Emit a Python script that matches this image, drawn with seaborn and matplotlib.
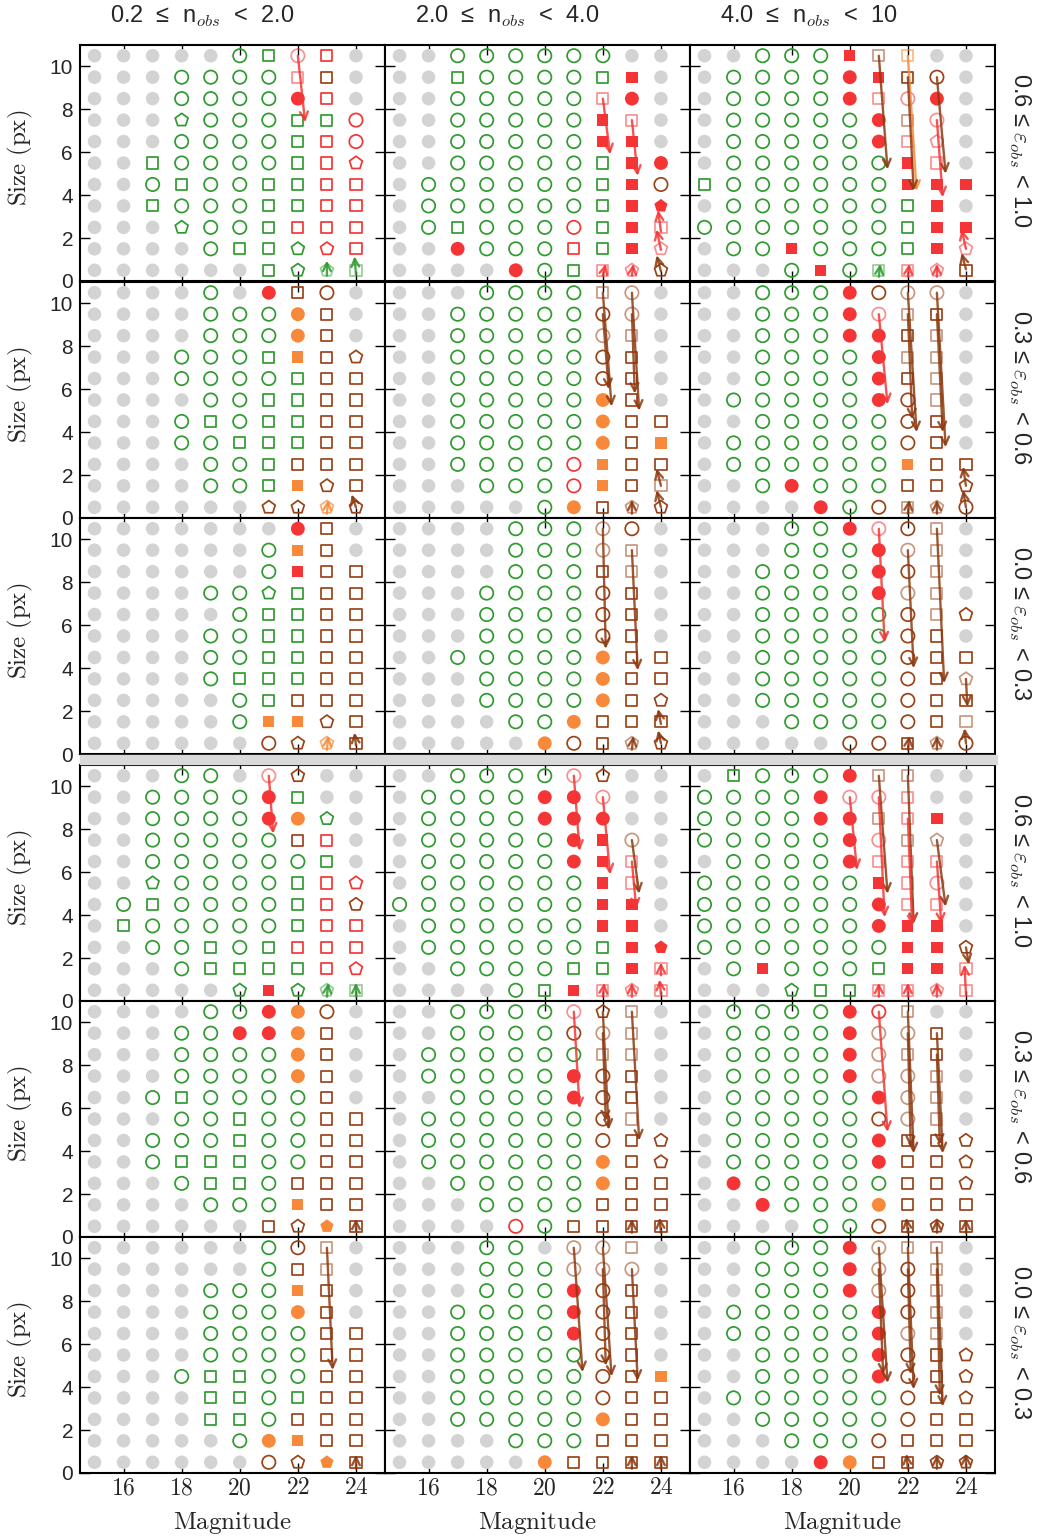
import numpy as np
import pandas as pd
import matplotlib
matplotlib.use('Agg')
import matplotlib.pyplot as plt
from matplotlib.patches import Rectangle
import seaborn as sns

sns.set_style('ticks')
plt.rcParams['font.family'] = ['Liberation Sans', 'DejaVu Sans']
plt.rcParams['mathtext.fontset'] = 'cm'

# grid of simulated sources: magnitude columns, size rows (bottom -> top)
magnitudes = [15, 16, 17, 18, 19, 20, 21, 22, 23, 24]
sizes = [0.5, 1.5, 2.5, 3.5, 4.5, 5.5, 6.5, 7.5, 8.5, 9.5, 10.5]
mag_ticks = [16, 18, 20, 22, 24]
size_ticks = [0, 2, 4, 6, 8, 10]

# bin edges shown as panel labels
n_bins = ['0.2', '2.0', '4.0', '10']
e_bins = [('0.6', '1.0'), ('0.3', '0.6'), ('0.0', '0.3')]

# one string per size row, top row (10.5) first, one char per magnitude
# . undetected | o s p green | O S P red open | u v w pale red | r q R red filled
# y Y z orange filled | k K pale orange | c b h brown open | e f g pale brown | x X pale green
a_e06_n02 = [".....osuS.", "...oooovb.", "...oooorS.", "...pooossO", "...oooosSO", "..soooosSP",
             "..osoossSS", "..sooossSS", "...poosSSS", "....osspPS", "......spxX"]
a_e06_n20 = ["..oooooo..", "..soooosq.", "..ooooovr.", "..oooooqv.", "..oooooqq.", "..ooooosqr",
             ".oooooosqc", ".oooooosqR", ".osoooOsqv", "..roooSsqw", "....rosvwh"]
a_e06_n40 = ["..oooqfk..", ".oooorqbc.", ".oooorvur.", ".ooooorfu.", ".ooooorvw.", ".ooooooqv.",
             "sooooooqqq", ".oooooosq.", "ooooooosqq", ".ooqooosqw", "...oqoXvwb"]
a_e03_n02 = ["....o.rbc.", "....oooyb.", "....oooyb.", "...ooosYbh", "...oooosbb", "....oossbb",
             "...osossbb", "...oosssbb", "....oosbbb", "....oosYhb", "......hhKh"]
a_e03_n20 = ["...oooofe.", "..oooooce.", "..oooooef.", "..ooooocb.", "..ooooocb.", "..oooooyb.",
             "..oooooybb", "..oooooybY", "..ooooOYbb", "...oooOYbf", ".....oybgh"]
a_e03_n40 = ["..ooorcee.", "..ooorufb.", "..ooorrbf.", "..oooorff.", "..oooorbf.", ".ooooorcf.",
             "..ooooocb.", ".oooooocb.", ".ooooooYbb", "..orooobbh", "....rocfgc"]
a_e00_n02 = [".......rb.", "......oYb.", "......oqbb", "....oopsbb", ".....ossbb", "....oossbb",
             "....oossbb", "....osssbb", ".....osbbb", ".....oYYhb", "......chKb"]
a_e00_n20 = ["....oooec.", "....oooef.", "....ooobf.", "...oooocb.", "...oooocb.", "...oooocb.",
             "..oooooybb", "...ooooybb", "...ooooybh", "....ooybbb", ".....ycbgh"]
a_e00_n40 = ["...oorucf.", "...oooref.", "..oooorcf.", "..ooooref.", "..ooooocfh", "..ooooocb.",
             "..ooooocbb", "..ooooocbg", "..ooooocbb", "...oooocbf", ".....ccbgc"]
b_e06_n02 = ["...oo.uh..", "..oooors..", "..ooooryp.", "..ooooobS.", "..oooooos.", "..poooosSP",
             ".osoooosSh", ".sooooosSS", "..oososSSS", "...ossssSP", ".....pqpxX"]
b_e06_n20 = ["..oooouh..", ".oooorru..", ".oooorrr..", ".ooooorqe.", ".ooooorqv.", ".ooooooqv.",
             "oooooooqq.", ".ooooooqq.", ".oooooosqR", "..oooossqv", "....osqvwv"]
b_e06_n40 = [".sooorff..", "ooooruuv..", "oooorrfvq.", "ooooorufg.", ".oooorvvv.", "ooooooqvu.",
             "oooooorvv.", "oooooorqq.", "oooooooqqh", ".oqooosqqv", "...pssvvwv"]
b_e03_n02 = ["....ooryc.", "...oorryb.", "...ooooyb.", "...ooooyb.", "..osoooob.", "...oosoobb",
             "..ooosoobb", "..osssoobb", "...ossobbb", "....oooYbb", "......bhzb"]
b_e03_n20 = ["..oooouhf.", "..oooocef.", ".ooooooff.", ".ooooorcb.", "..oooorcb.", ".oooooocf.",
             ".oooooocbh", ".ooooooybh", "..oooooybb", "...oooobbb", "....Oobbbb"]
b_e03_n40 = [".oooorOf..", ".ooooreeb.", ".oooorefb.", ".ooooreef.", ".oooooref.", ".ooooocef.",
             ".ooooorbbh", ".ooooorbbh", ".rooooobbh", "..roooybbb", "....oocbhb"]
b_e00_n02 = ["......ocf.", "......obf.", "....oooYb.", "....oooyb.", "....oooobb", "....oooobb",
             "...ossoobb", "....ssosbb", "....ssobbb", ".....oyYbb", "......chzb"]
b_e00_n20 = ["...oo.eef.", "...oooeee.", "...ooorcb.", "..oooorcb.", "..oooorcb.", "..ooooocb.",
             "..ooooocbY", "..ooooocbb", "..oooooybb", "....ooobbb", ".....ybbbb"]
b_e00_n40 = ["..oooreff.", "..ooorecf.", "..ooorecf.", ".ooooorcf.", ".oooooref.", "..oooorcbh",
             "..oooorcbh", ".oooooocbh", "..ooooocbb", "...ooocbbb", "....rybbhh"]

# arrows: (mag start, size start, mag end, size end, colour code)
arr_a_e06_n02 = [(22, 10.5, 22.25, 7.4, 'r'), (23, 0.25, 23.0, 0.95, 'g'), (24, 0.3, 23.95, 1.15, 'g')]
arr_a_e06_n20 = [(22, 8.5, 22.25, 5.9, 'r'), (23, 7.5, 23.2, 4.9, 'r'), (22, 0.25, 22.1, 0.8, 'r'),
                 (23, 0.25, 23.05, 0.8, 'r'), (24, 0.45, 23.85, 1.2, 'b'), (24, 1.45, 23.85, 2.4, 'r'),
                 (24, 2.3, 23.9, 3.3, 'r')]
arr_a_e06_n40 = [(21, 10.5, 21.3, 5.2, 'b'), (22, 10.5, 22.3, 4.2, 'y'), (22, 9.5, 22.2, 4.2, 'b'),
                 (23, 9.5, 23.3, 5.0, 'b'), (23, 7.5, 23.2, 3.9, 'r'), (21, 0.2, 21.05, 0.8, 'g'),
                 (22, 0.2, 22.05, 0.8, 'r'), (23, 0.2, 23.0, 0.8, 'r'), (24, 0.55, 23.85, 1.3, 'b'),
                 (24, 1.5, 23.85, 2.4, 'r')]
arr_a_e03_n02 = [(23, 0.2, 23.05, 0.85, 'y'), (24, 0.5, 23.85, 1.1, 'b')]
arr_a_e03_n20 = [(22, 10.5, 22.3, 5.2, 'b'), (22, 9.5, 22.2, 6.0, 'b'), (23, 10.5, 23.25, 5.0, 'b'),
                 (23, 9.5, 23.1, 5.8, 'b'), (23, 0.2, 23.0, 0.85, 'b'), (24, 0.5, 23.85, 1.3, 'b'),
                 (24, 1.5, 23.85, 2.3, 'b')]
arr_a_e03_n40 = [(21, 9.5, 21.3, 5.3, 'r'), (22, 10.5, 22.3, 4.0, 'b'), (22, 9.5, 22.15, 4.6, 'b'),
                 (23, 10.5, 23.3, 3.3, 'b'), (23, 9.5, 23.2, 4.0, 'b'), (22, 0.2, 22.05, 0.85, 'b'),
                 (23, 0.2, 23.0, 0.85, 'b'), (24, 0.5, 23.9, 1.3, 'b'), (24, 1.5, 23.9, 2.4, 'b')]
arr_a_e00_n02 = [(23, 0.2, 23.05, 0.85, 'y'), (24, 0.4, 23.95, 1.0, 'b')]
arr_a_e00_n20 = [(22, 10.5, 22.1, 4.9, 'b'), (23, 9.5, 23.2, 3.9, 'b'), (23, 0.2, 23.05, 0.85, 'b'),
                 (24, 0.5, 23.9, 1.1, 'b'), (24, 1.4, 23.9, 2.1, 'b')]
arr_a_e00_n40 = [(21, 10.5, 21.2, 5.2, 'r'), (22, 9.5, 22.2, 4.0, 'b'), (23, 10.5, 23.25, 3.3, 'b'),
                 (24, 3.5, 24.05, 2.2, 'b'), (22, 0.2, 22.05, 0.85, 'b'), (23, 0.2, 23.0, 0.85, 'b'),
                 (24, 0.5, 23.95, 1.2, 'b')]
arr_b_e06_n02 = [(21, 10.5, 21.15, 7.8, 'r'), (23, 0.2, 23.05, 0.85, 'g'), (24, 0.2, 24.0, 0.85, 'g')]
arr_b_e06_n20 = [(21, 10.5, 21.2, 7.0, 'r'), (22, 9.5, 22.25, 5.9, 'r'), (23, 7.5, 23.25, 5.0, 'b'),
                 (23, 6.5, 23.15, 4.3, 'r'), (22, 0.2, 22.05, 0.85, 'r'), (23, 0.2, 23.0, 0.85, 'r'),
                 (24, 0.3, 23.95, 1.0, 'r'), (24, 1.2, 24.0, 1.8, 'r')]
arr_b_e06_n40 = [(20, 9.5, 20.25, 6.1, 'r'), (21, 10.5, 21.3, 5.0, 'b'), (21, 9.5, 21.2, 3.9, 'r'),
                 (22, 10.5, 22.2, 3.6, 'b'), (22, 8.5, 22.15, 3.5, 'r'), (23, 7.5, 23.3, 4.4, 'b'),
                 (23, 6.5, 23.15, 3.6, 'r'), (24, 2.5, 24.1, 1.7, 'b'), (21, 0.2, 21.0, 0.85, 'r'),
                 (22, 0.2, 22.0, 0.85, 'r'), (23, 0.2, 23.0, 0.85, 'r'), (24, 0.3, 23.95, 1.7, 'r')]
arr_b_e03_n02 = [(24, 0.3, 24.0, 0.85, 'b')]
arr_b_e03_n20 = [(21, 10.5, 21.2, 6.0, 'r'), (22, 10.5, 22.2, 5.0, 'b'), (22, 9.5, 22.1, 5.4, 'b'),
                 (23, 10.5, 23.25, 4.5, 'b'), (23, 0.2, 23.0, 0.85, 'b'), (24, 0.2, 23.95, 0.9, 'b')]
arr_b_e03_n40 = [(21, 10.5, 21.3, 4.9, 'r'), (22, 10.5, 22.2, 3.9, 'b'), (22, 9.5, 22.1, 4.2, 'b'),
                 (23, 9.5, 23.2, 3.9, 'b'), (23, 8.5, 23.1, 4.3, 'b'), (22, 0.2, 21.95, 0.9, 'b'),
                 (23, 0.2, 23.0, 0.85, 'b'), (24, 0.2, 24.0, 0.85, 'b')]
arr_b_e00_n02 = [(23, 10.5, 23.2, 4.8, 'b'), (24, 0.2, 24.0, 0.85, 'b')]
arr_b_e00_n20 = [(21, 10.5, 21.3, 4.7, 'b'), (22, 10.5, 22.3, 4.5, 'b'), (22, 9.5, 22.1, 5.0, 'b'),
                 (23, 9.5, 23.2, 4.3, 'b'), (23, 0.2, 23.0, 0.85, 'b'), (24, 0.2, 24.0, 0.85, 'b')]
arr_b_e00_n40 = [(21, 10.5, 21.3, 4.2, 'b'), (21, 9.5, 21.15, 4.6, 'b'), (22, 10.5, 22.2, 3.9, 'b'),
                 (22, 9.5, 22.1, 4.6, 'b'), (23, 10.5, 23.2, 3.1, 'b'), (23, 9.5, 23.1, 3.6, 'b'),
                 (22, 0.2, 21.95, 0.9, 'b'), (23, 0.2, 23.0, 0.85, 'b'), (24, 0.3, 24.0, 0.9, 'b')]

panels = [
    [(a_e06_n02, arr_a_e06_n02), (a_e06_n20, arr_a_e06_n20), (a_e06_n40, arr_a_e06_n40)],
    [(a_e03_n02, arr_a_e03_n02), (a_e03_n20, arr_a_e03_n20), (a_e03_n40, arr_a_e03_n40)],
    [(a_e00_n02, arr_a_e00_n02), (a_e00_n20, arr_a_e00_n20), (a_e00_n40, arr_a_e00_n40)],
    [(b_e06_n02, arr_b_e06_n02), (b_e06_n20, arr_b_e06_n20), (b_e06_n40, arr_b_e06_n40)],
    [(b_e03_n02, arr_b_e03_n02), (b_e03_n20, arr_b_e03_n20), (b_e03_n40, arr_b_e03_n40)],
    [(b_e00_n02, arr_b_e00_n02), (b_e00_n20, arr_b_e00_n20), (b_e00_n40, arr_b_e00_n40)],
]

GRAY = '#d3d3d3'
GREEN = '#2f9a2f'
RED = '#f53535'
ORANGE = '#f8893a'
BROWN = '#9a4318'
arrow_colors = {'r': RED, 'b': '#8c3a10', 'y': ORANGE, 'g': GREEN}

# code -> marker, colour, filled, alpha, size
STYLE = {
    '.': ('o', GRAY, True, 1.0, 95),
    'o': ('o', GREEN, False, 1.0, 92),
    's': ('s', GREEN, False, 1.0, 64),
    'p': ('p', GREEN, False, 1.0, 95),
    'x': ('p', GREEN, False, 0.5, 95),
    'X': ('s', GREEN, False, 0.5, 64),
    'O': ('o', RED, False, 1.0, 92),
    'S': ('s', RED, False, 1.0, 64),
    'P': ('p', RED, False, 1.0, 95),
    'u': ('o', RED, False, 0.55, 92),
    'v': ('s', RED, False, 0.55, 64),
    'w': ('p', RED, False, 0.55, 95),
    'r': ('o', RED, True, 1.0, 100),
    'q': ('s', RED, True, 1.0, 66),
    'R': ('p', RED, True, 1.0, 100),
    'y': ('o', ORANGE, True, 1.0, 100),
    'Y': ('s', ORANGE, True, 1.0, 66),
    'z': ('p', ORANGE, True, 1.0, 100),
    'k': ('s', ORANGE, False, 0.6, 64),
    'K': ('p', ORANGE, False, 0.7, 95),
    'c': ('o', BROWN, False, 1.0, 92),
    'b': ('s', BROWN, False, 1.0, 64),
    'h': ('p', BROWN, False, 1.0, 95),
    'e': ('o', BROWN, False, 0.55, 92),
    'f': ('s', BROWN, False, 0.55, 64),
    'g': ('p', BROWN, False, 0.55, 95),
}

W, H = 1043, 1538
fig = plt.figure(figsize=(W / 100, H / 100), dpi=100)
col_left = [80, 385, 690]
row_top = [45, 282, 518, 765, 1001, 1237]
pw, ph = 305, 236

# gray band between the two blocks
fig.patches.append(Rectangle((80 / W, 1 - 764 / H), 917 / W, 9 / H, transform=fig.transFigure,
                             color='#d9d9d9', zorder=0))

for i in range(6):
    for j in range(3):
        rows, arrows = panels[i][j]
        ax = fig.add_axes([col_left[j] / W, 1 - (row_top[i] + ph) / H, pw / W, ph / H])
        recs = []
        for k, line in enumerate(rows):
            for m, code in zip(magnitudes, line):
                recs.append((m, sizes[len(rows) - 1 - k], code))
        df = pd.DataFrame(recs, columns=['mag', 'size', 'code'])
        order = ['.'] + [c for c in STYLE if c != '.']
        for code in order:
            sub = df[df['code'] == code]
            if sub.empty:
                continue
            mk, col, filled, alpha, sz = STYLE[code]
            if filled:
                sns.scatterplot(x=sub['mag'], y=sub['size'], ax=ax, marker=mk, s=sz, color=col,
                                edgecolor='none', linewidth=0, alpha=alpha, legend=False)
            else:
                sns.scatterplot(x=sub['mag'], y=sub['size'], ax=ax, marker=mk, s=sz,
                                facecolor='none', edgecolor=col, linewidth=1.25, alpha=alpha,
                                legend=False)
        for x0, y0, x1, y1, c in arrows:
            ax.annotate('', xy=(x1, y1), xytext=(x0, y0),
                        arrowprops=dict(arrowstyle='->', color=arrow_colors[c], lw=1.7,
                                        shrinkA=0, shrinkB=0, mutation_scale=14, alpha=0.85))
        ax.set_xlim(14.5, 25.0)
        ax.set_ylim(0, 11)
        ax.set_xticks(mag_ticks)
        ax.set_yticks(size_ticks)
        ax.set_xlabel('')
        ax.set_ylabel('')
        ax.tick_params(direction='in', top=True, right=True, length=7, width=1, color='black')
        for sp in ax.spines.values():
            sp.set_linewidth(1.5)
            sp.set_color('black')
        if j == 0:
            ax.set_yticklabels([str(t) for t in size_ticks], fontsize=15)
            ax.tick_params(axis='y', pad=5)
        else:
            ax.set_yticklabels([])
        if i == 5:
            ax.set_xticklabels(['$%d$' % t for t in mag_ticks], fontsize=17)
            ax.tick_params(axis='x', pad=3)
        else:
            ax.set_xticklabels([])

# column titles
for j in range(3):
    fig.text((col_left[j] + 30) / W, 1 - 16 / H,
             '%s  ≤  n$_{obs}$  <  %s' % (n_bins[j], n_bins[j + 1]),
             ha='left', va='center', fontsize=17)
    fig.text((col_left[j] + pw / 2) / W, 1 - 1523 / H, r'$\mathrm{Magnitude}$',
             ha='center', va='center', fontsize=18)

# row labels
for i in range(6):
    lo, hi = e_bins[i % 3]
    yc = row_top[i] + ph / 2
    fig.text(1020 / W, 1 - (yc - 12) / H, '%s ≤ $\\varepsilon_{obs}$ < %s' % (lo, hi),
             rotation=270, ha='center', va='center', fontsize=17)
    fig.text(20 / W, 1 - (yc - 5) / H, r'$\mathrm{Size\ (px)}$', rotation=90,
             ha='center', va='center', fontsize=18)

fig.savefig('out.png', dpi=100)
